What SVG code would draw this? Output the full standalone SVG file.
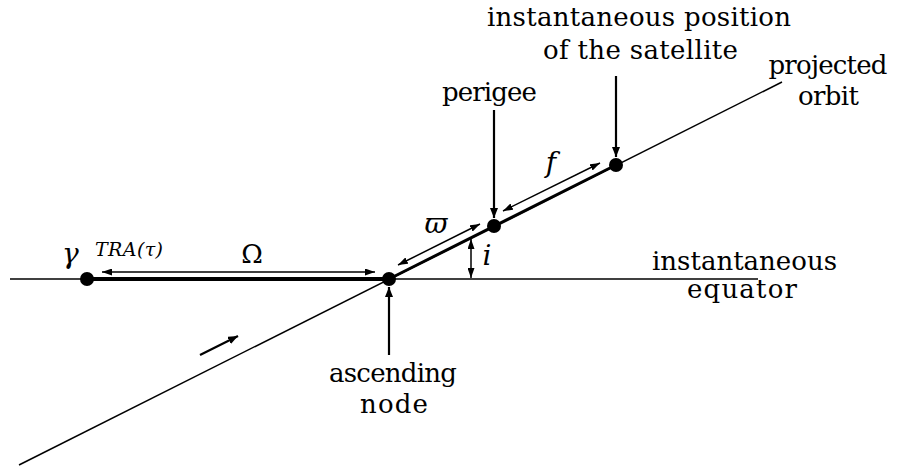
<svg xmlns="http://www.w3.org/2000/svg" width="897" height="469" viewBox="0 0 897 469">
<style>
  .lbl { font-family: 'DejaVu Serif', serif; font-size: 26px; fill: #000; }
  .math { font-family: 'DejaVu Serif', serif; font-style: italic; fill: #000; }
  .thin { stroke: #000; stroke-width: 1.5; fill: none; }
  .dim { stroke: #000; stroke-width: 1.5; fill: none; marker-start: url(#ah); marker-end: url(#ah); }
  .ptr { stroke: #000; stroke-width: 2.2; fill: none; marker-end: url(#ah2); }
  .dot { fill: #000; }
</style>
<defs>
  <marker id="ah" markerUnits="userSpaceOnUse" markerWidth="10" markerHeight="7" refX="10" refY="3.5" orient="auto-start-reverse">
    <path d="M0,0 L10,3.5 L0,7 z" fill="#000"/>
  </marker>
  <marker id="ah2" markerUnits="userSpaceOnUse" markerWidth="10" markerHeight="8" refX="10" refY="4" orient="auto">
    <path d="M0,0 L10,4 L0,8 z" fill="#000"/>
  </marker>
</defs>
<rect width="897" height="469" fill="#fff"/>

<g id="connectors">
  <line class="thin" x1="10" y1="279" x2="758" y2="279"/>
  <line class="thin" x1="19" y1="465" x2="782" y2="82"/>
  <line stroke="#000" stroke-width="4" x1="87" y1="279" x2="389" y2="279"/>
  <line stroke="#000" stroke-width="3" x1="389" y1="279" x2="616" y2="165"/>
  <line class="dim" stroke-width="2.5" x1="102" y1="272" x2="375" y2="272"/>
  <line class="dim" x1="398" y1="265" x2="480" y2="224"/>
  <line class="dim" x1="503" y1="211" x2="600" y2="163"/>
  <line class="dim" x1="471" y1="239" x2="471" y2="278"/>
  <line class="ptr" x1="200" y1="355" x2="238" y2="336"/>
  <line class="ptr" x1="494" y1="110" x2="494" y2="218"/>
  <line class="ptr" x1="616" y1="76" x2="616" y2="157"/>
  <line class="ptr" x1="389" y1="355" x2="389" y2="287"/>
</g>

<g id="node-gamma">
  <circle class="dot" cx="87" cy="279" r="7"/>
  <text class="math" x="62" y="263" font-size="28">γ</text>
  <text class="math" x="95" y="256" font-size="19" textLength="68" lengthAdjust="spacing">TRA(τ)</text>
</g>
<g id="node-ascending">
  <circle class="dot" cx="389" cy="279" r="7"/>
  <text class="lbl" x="393" y="382" text-anchor="middle" textLength="128" lengthAdjust="spacing">ascending</text>
  <text class="lbl" x="394" y="413" text-anchor="middle" textLength="68" lengthAdjust="spacing">node</text>
</g>
<g id="node-perigee">
  <circle class="dot" cx="494" cy="226" r="7"/>
  <text class="lbl" x="489.5" y="101" text-anchor="middle" textLength="95" lengthAdjust="spacing">perigee</text>
</g>
<g id="node-satellite">
  <circle class="dot" cx="616" cy="165" r="7"/>
  <text class="lbl" x="639" y="26" text-anchor="middle" textLength="304" lengthAdjust="spacing">instantaneous position</text>
  <text class="lbl" x="640.5" y="59" text-anchor="middle" textLength="195" lengthAdjust="spacing">of the satellite</text>
</g>
<g id="label-orbit">
  <text class="lbl" x="828" y="74" text-anchor="middle" textLength="119" lengthAdjust="spacing">projected</text>
  <text class="lbl" x="828.5" y="105" text-anchor="middle" textLength="61" lengthAdjust="spacing">orbit</text>
</g>
<g id="label-equator">
  <text class="lbl" x="744.5" y="270" text-anchor="middle" textLength="185" lengthAdjust="spacing">instantaneous</text>
  <text class="lbl" x="742" y="298" text-anchor="middle" textLength="110" lengthAdjust="spacing">equator</text>
</g>
<g id="math-labels">
  <text x="252" y="263" text-anchor="middle" font-family="'DejaVu Serif', serif" font-size="26">Ω</text>
  <text class="math" x="436" y="233" text-anchor="middle" font-size="28">ϖ</text>
  <text class="math" x="551" y="172" text-anchor="middle" font-size="28">f</text>
  <text class="math" x="487" y="265" text-anchor="middle" font-size="28">i</text>
</g>
</svg>
